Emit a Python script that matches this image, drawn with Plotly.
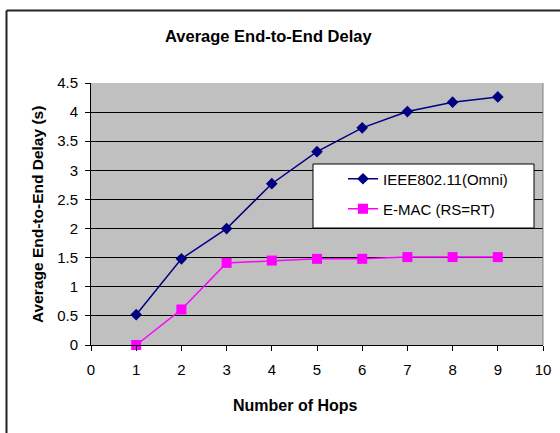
import plotly.graph_objects as go

# ---- data ----
hops = [1, 2, 3, 4, 5, 6, 7, 8, 9]
ieee_delay = [0.52, 1.48, 2.00, 2.77, 3.32, 3.73, 4.01, 4.17, 4.26]
emac_delay = [0.00, 0.61, 1.41, 1.45, 1.48, 1.48, 1.51, 1.51, 1.51]
series_names = ["IEEE802.11(Omni)", "E-MAC (RS=RT)"]
x_tick_vals = [0, 1, 2, 3, 4, 5, 6, 7, 8, 9, 10]
y_tick_vals = [0, 0.5, 1, 1.5, 2, 2.5, 3, 3.5, 4, 4.5]
title_text = "Average End-to-End Delay"
x_title = "Number of Hops"
y_title = "Average End-to-End Delay (s)"

# ---- layout geometry (pixels) ----
W, H = 560, 433
L, R, T, B = 91, 17, 83, 88
PW, PH = W - L - R, H - T - B
FONT = "Liberation Sans, Arial, sans-serif"


def px(x):
    return (x - L) / PW


def py(y):
    return (H - B - y) / PH


fig = go.Figure()
fig.add_trace(go.Scatter(
    x=hops, y=ieee_delay, name=series_names[0], mode="lines+markers",
    line=dict(color="#000080", width=1.5),
    marker=dict(symbol="diamond", size=9, color="#000080"),
    cliponaxis=False, legend="legend"))
fig.add_trace(go.Scatter(
    x=hops, y=emac_delay, name=series_names[1], mode="lines+markers",
    line=dict(color="#FF00FF", width=1.5),
    marker=dict(symbol="square", size=10, color="#FF00FF"),
    cliponaxis=False, legend="legend2"))

axis_common = dict(
    showline=True, linecolor="black", linewidth=1,
    ticks="outside", ticklen=5, tickcolor="black", tickwidth=1,
    tickfont=dict(family=FONT, size=15, color="black"),
    zeroline=False,
)

fig.update_layout(
    width=W, height=H,
    margin=dict(l=L, r=R, t=T, b=B, autoexpand=False),
    paper_bgcolor="white", plot_bgcolor="#C0C0C0",
    showlegend=True,
    xaxis=dict(range=[0, 10], tickvals=x_tick_vals, showgrid=False,
               ticklabelstandoff=6, **axis_common),
    yaxis=dict(range=[0, 4.5], tickvals=y_tick_vals, showgrid=True,
               gridcolor="black", gridwidth=1, ticklabelstandoff=4,
               **axis_common),
    legend=dict(x=px(343), y=py(179), xanchor="left", yanchor="middle",
                bgcolor="rgba(0,0,0,0)", borderwidth=0,
                font=dict(family=FONT, size=15, color="black")),
    legend2=dict(x=px(343), y=py(209), xanchor="left", yanchor="middle",
                 bgcolor="rgba(0,0,0,0)", borderwidth=0,
                 font=dict(family=FONT, size=15, color="black")),
    shapes=[
        # chart frame (left and top edges)
        dict(type="line", xref="paper", yref="paper",
             x0=px(6.5), x1=px(6.5), y0=py(10.5), y1=py(445),
             line=dict(color="#222222", width=2)),
        dict(type="line", xref="paper", yref="paper",
             x0=px(6.5), x1=px(570), y0=py(10.5), y1=py(10.5),
             line=dict(color="#222222", width=2)),
        # plot-area right border
        dict(type="line", xref="paper", yref="paper",
             x0=1, x1=1, y0=0, y1=1,
             line=dict(color="#808080", width=1)),
        # legend box
        dict(type="rect", xref="paper", yref="paper", layer="above",
             x0=px(313), x1=px(534), y0=py(228), y1=py(164),
             fillcolor="white", line=dict(color="black", width=1)),
    ],
    annotations=[
        dict(text="<b>" + title_text + "</b>", xref="paper", yref="paper",
             x=px(268), y=py(36), xanchor="center", yanchor="middle",
             showarrow=False, font=dict(family=FONT, size=16.5, color="black")),
        dict(text="<b>" + x_title + "</b>", xref="paper", yref="paper",
             x=px(295), y=py(405), xanchor="center", yanchor="middle",
             showarrow=False, font=dict(family=FONT, size=16, color="black")),
        dict(text="<b>" + y_title + "</b>", xref="paper", yref="paper",
             x=px(37), y=py(215), xanchor="center", yanchor="middle",
             textangle=-90,
             showarrow=False, font=dict(family=FONT, size=15.5, color="black")),
    ],
)

fig.write_html("out.html")
